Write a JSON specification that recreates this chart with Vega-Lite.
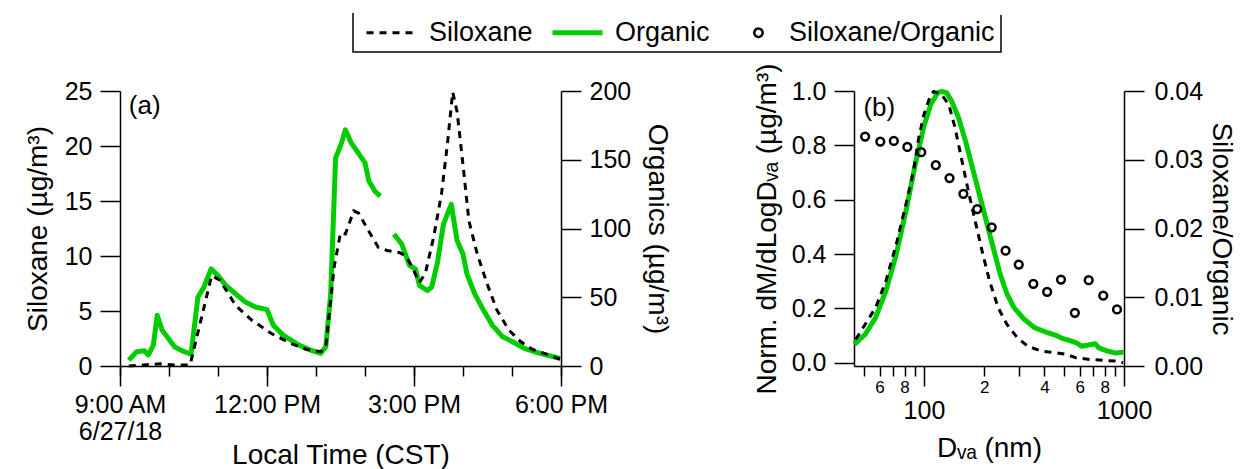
{
  "$schema": "https://vega.github.io/schema/vega-lite/v6.json",
  "background": "white",
  "padding": {"left": 24, "top": 12, "right": 0, "bottom": 0},
  "config": {
    "font": "Liberation Sans",
    "view": {"stroke": null},
    "axis": {
      "labelFont": "Liberation Sans", "titleFont": "Liberation Sans",
      "labelFontSize": 25, "titleFontSize": 28, "titleFontWeight": "normal",
      "labelColor": "black", "titleColor": "black",
      "domainColor": "black", "tickColor": "black",
      "domainWidth": 1.5, "tickWidth": 1.5, "grid": false
    },
    "legend": {
      "orient": "none", "legendX": 233, "legendY": -78,
      "direction": "horizontal", "strokeColor": "black", "strokeWidth": 1.5, "padding": 6,
      "labelFont": "Liberation Sans", "labelFontSize": 27, "labelColor": "black", "labelLimit": 0,
      "symbolSize": 2500, "columnPadding": 9, "labelOffset": 43
    }
  },
  "datasets": {
    "siloxaneTime": [
      {"hour": 9.18, "value": 0, "series": "Siloxane"},
      {"hour": 9.5, "value": 0.1, "series": "Siloxane"},
      {"hour": 9.82, "value": 0.2, "series": "Siloxane"},
      {"hour": 10.1, "value": 0.1, "series": "Siloxane"},
      {"hour": 10.43, "value": 0.1, "series": "Siloxane"},
      {"hour": 10.87, "value": 8.2, "series": "Siloxane"},
      {"hour": 11.04, "value": 7.8, "series": "Siloxane"},
      {"hour": 11.36, "value": 5.5, "series": "Siloxane"},
      {"hour": 11.68, "value": 4.2, "series": "Siloxane"},
      {"hour": 12.09, "value": 2.95, "series": "Siloxane"},
      {"hour": 12.49, "value": 2.05, "series": "Siloxane"},
      {"hour": 12.81, "value": 1.5, "series": "Siloxane"},
      {"hour": 13.1, "value": 1.3, "series": "Siloxane"},
      {"hour": 13.2, "value": 1.75, "series": "Siloxane"},
      {"hour": 13.37, "value": 9.0, "series": "Siloxane"},
      {"hour": 13.5, "value": 12.1, "series": "Siloxane"},
      {"hour": 13.6, "value": 12.0, "series": "Siloxane"},
      {"hour": 13.77, "value": 14.1, "series": "Siloxane"},
      {"hour": 13.87, "value": 13.9, "series": "Siloxane"},
      {"hour": 14.07, "value": 12.3, "series": "Siloxane"},
      {"hour": 14.27, "value": 10.8, "series": "Siloxane"},
      {"hour": 14.45, "value": 10.5, "series": "Siloxane"},
      {"hour": 14.71, "value": 10.3, "series": "Siloxane"},
      {"hour": 14.83, "value": 10.0, "series": "Siloxane"},
      {"hour": 14.95, "value": 9.1, "series": "Siloxane"},
      {"hour": 15.11, "value": 7.6, "series": "Siloxane"},
      {"hour": 15.23, "value": 8.4, "series": "Siloxane"},
      {"hour": 15.4, "value": 11.7, "series": "Siloxane"},
      {"hour": 15.56, "value": 15.6, "series": "Siloxane"},
      {"hour": 15.68, "value": 20.1, "series": "Siloxane"},
      {"hour": 15.79, "value": 24.9, "series": "Siloxane"},
      {"hour": 15.88, "value": 23.1, "series": "Siloxane"},
      {"hour": 16.0, "value": 18.3, "series": "Siloxane"},
      {"hour": 16.12, "value": 13.2, "series": "Siloxane"},
      {"hour": 16.29, "value": 10.2, "series": "Siloxane"},
      {"hour": 16.49, "value": 7.5, "series": "Siloxane"},
      {"hour": 16.69, "value": 5.1, "series": "Siloxane"},
      {"hour": 16.94, "value": 3.25, "series": "Siloxane"},
      {"hour": 17.18, "value": 2.2, "series": "Siloxane"},
      {"hour": 17.42, "value": 1.5, "series": "Siloxane"},
      {"hour": 17.75, "value": 1.0, "series": "Siloxane"},
      {"hour": 17.99, "value": 0.6, "series": "Siloxane"}
    ],
    "organicTime": [
      {"hour": 9.18, "value": 4.3, "segment": 1, "series": "Organic"},
      {"hour": 9.34, "value": 10.4, "segment": 1, "series": "Organic"},
      {"hour": 9.5, "value": 11.1, "segment": 1, "series": "Organic"},
      {"hour": 9.58, "value": 8, "segment": 1, "series": "Organic"},
      {"hour": 9.68, "value": 15.2, "segment": 1, "series": "Organic"},
      {"hour": 9.76, "value": 36.9, "segment": 1, "series": "Organic"},
      {"hour": 9.86, "value": 26, "segment": 1, "series": "Organic"},
      {"hour": 9.99, "value": 20, "segment": 1, "series": "Organic"},
      {"hour": 10.11, "value": 14, "segment": 1, "series": "Organic"},
      {"hour": 10.31, "value": 10.4, "segment": 1, "series": "Organic"},
      {"hour": 10.45, "value": 8.7, "segment": 1, "series": "Organic"},
      {"hour": 10.59, "value": 50, "segment": 1, "series": "Organic"},
      {"hour": 10.71, "value": 57.3, "segment": 1, "series": "Organic"},
      {"hour": 10.86, "value": 70.6, "segment": 1, "series": "Organic"},
      {"hour": 11.0, "value": 65.8, "segment": 1, "series": "Organic"},
      {"hour": 11.16, "value": 58.6, "segment": 1, "series": "Organic"},
      {"hour": 11.36, "value": 52.5, "segment": 1, "series": "Organic"},
      {"hour": 11.56, "value": 46.5, "segment": 1, "series": "Organic"},
      {"hour": 11.76, "value": 42.9, "segment": 1, "series": "Organic"},
      {"hour": 12.0, "value": 41, "segment": 1, "series": "Organic"},
      {"hour": 12.13, "value": 29.6, "segment": 1, "series": "Organic"},
      {"hour": 12.33, "value": 22.4, "segment": 1, "series": "Organic"},
      {"hour": 12.65, "value": 15.2, "segment": 1, "series": "Organic"},
      {"hour": 12.89, "value": 11.6, "segment": 1, "series": "Organic"},
      {"hour": 13.1, "value": 9.2, "segment": 1, "series": "Organic"},
      {"hour": 13.2, "value": 14, "segment": 1, "series": "Organic"},
      {"hour": 13.3, "value": 52.5, "segment": 1, "series": "Organic"},
      {"hour": 13.4, "value": 151.3, "segment": 1, "series": "Organic"},
      {"hour": 13.51, "value": 161, "segment": 1, "series": "Organic"},
      {"hour": 13.6, "value": 171.8, "segment": 1, "series": "Organic"},
      {"hour": 13.72, "value": 162.2, "segment": 1, "series": "Organic"},
      {"hour": 13.84, "value": 156.1, "segment": 1, "series": "Organic"},
      {"hour": 14.0, "value": 147.7, "segment": 1, "series": "Organic"},
      {"hour": 14.08, "value": 134.5, "segment": 1, "series": "Organic"},
      {"hour": 14.2, "value": 127.2, "segment": 1, "series": "Organic"},
      {"hour": 14.31, "value": 123.6, "segment": 1, "series": "Organic"},
      {"hour": 14.59, "value": 95.9, "segment": 2, "series": "Organic"},
      {"hour": 14.75, "value": 88.7, "segment": 2, "series": "Organic"},
      {"hour": 14.91, "value": 73, "segment": 2, "series": "Organic"},
      {"hour": 15.03, "value": 70.6, "segment": 2, "series": "Organic"},
      {"hour": 15.11, "value": 58.6, "segment": 2, "series": "Organic"},
      {"hour": 15.27, "value": 54.9, "segment": 2, "series": "Organic"},
      {"hour": 15.36, "value": 57.3, "segment": 2, "series": "Organic"},
      {"hour": 15.48, "value": 75.4, "segment": 2, "series": "Organic"},
      {"hour": 15.6, "value": 103, "segment": 2, "series": "Organic"},
      {"hour": 15.76, "value": 117.6, "segment": 2, "series": "Organic"},
      {"hour": 15.88, "value": 91.1, "segment": 2, "series": "Organic"},
      {"hour": 16.0, "value": 81.4, "segment": 2, "series": "Organic"},
      {"hour": 16.08, "value": 67, "segment": 2, "series": "Organic"},
      {"hour": 16.24, "value": 52.5, "segment": 2, "series": "Organic"},
      {"hour": 16.4, "value": 41.7, "segment": 2, "series": "Organic"},
      {"hour": 16.6, "value": 29.6, "segment": 2, "series": "Organic"},
      {"hour": 16.81, "value": 21.2, "segment": 2, "series": "Organic"},
      {"hour": 17.01, "value": 17.6, "segment": 2, "series": "Organic"},
      {"hour": 17.25, "value": 12.8, "segment": 2, "series": "Organic"},
      {"hour": 17.57, "value": 9.2, "segment": 2, "series": "Organic"},
      {"hour": 17.98, "value": 5.5, "segment": 2, "series": "Organic"}
    ],
    "siloxaneSize": [
      {"diameter": 45.6, "value": 0.086, "series": "Siloxane"},
      {"diameter": 50.8, "value": 0.141, "series": "Siloxane"},
      {"diameter": 57.3, "value": 0.2025, "series": "Siloxane"},
      {"diameter": 64.5, "value": 0.30, "series": "Siloxane"},
      {"diameter": 72.7, "value": 0.436, "series": "Siloxane"},
      {"diameter": 82.0, "value": 0.595, "series": "Siloxane"},
      {"diameter": 88.7, "value": 0.706, "series": "Siloxane"},
      {"diameter": 94.2, "value": 0.828, "series": "Siloxane"},
      {"diameter": 100, "value": 0.914, "series": "Siloxane"},
      {"diameter": 108.3, "value": 0.988, "series": "Siloxane"},
      {"diameter": 111.8, "value": 0.998, "series": "Siloxane"},
      {"diameter": 122, "value": 0.988, "series": "Siloxane"},
      {"diameter": 133, "value": 0.951, "series": "Siloxane"},
      {"diameter": 143, "value": 0.865, "series": "Siloxane"},
      {"diameter": 155, "value": 0.742, "series": "Siloxane"},
      {"diameter": 168, "value": 0.62, "series": "Siloxane"},
      {"diameter": 182, "value": 0.509, "series": "Siloxane"},
      {"diameter": 197, "value": 0.399, "series": "Siloxane"},
      {"diameter": 213, "value": 0.30, "series": "Siloxane"},
      {"diameter": 235, "value": 0.2025, "series": "Siloxane"},
      {"diameter": 260, "value": 0.141, "series": "Siloxane"},
      {"diameter": 293, "value": 0.092, "series": "Siloxane"},
      {"diameter": 330, "value": 0.061, "series": "Siloxane"},
      {"diameter": 387, "value": 0.043, "series": "Siloxane"},
      {"diameter": 454, "value": 0.037, "series": "Siloxane"},
      {"diameter": 512, "value": 0.031, "series": "Siloxane"},
      {"diameter": 577, "value": 0.018, "series": "Siloxane"},
      {"diameter": 676, "value": 0.012, "series": "Siloxane"},
      {"diameter": 793, "value": 0.0086, "series": "Siloxane"},
      {"diameter": 910, "value": 0.006, "series": "Siloxane"},
      {"diameter": 990, "value": 0.0, "series": "Siloxane"}
    ],
    "organicSize": [
      {"diameter": 44.9, "value": 0.0675, "series": "Organic"},
      {"diameter": 50.8, "value": 0.104, "series": "Organic"},
      {"diameter": 57.3, "value": 0.166, "series": "Organic"},
      {"diameter": 64.5, "value": 0.264, "series": "Organic"},
      {"diameter": 72.7, "value": 0.399, "series": "Organic"},
      {"diameter": 82.0, "value": 0.571, "series": "Organic"},
      {"diameter": 90.5, "value": 0.73, "series": "Organic"},
      {"diameter": 100, "value": 0.871, "series": "Organic"},
      {"diameter": 108.3, "value": 0.951, "series": "Organic"},
      {"diameter": 117.3, "value": 0.994, "series": "Organic"},
      {"diameter": 122, "value": 0.998, "series": "Organic"},
      {"diameter": 129.6, "value": 0.994, "series": "Organic"},
      {"diameter": 137.5, "value": 0.963, "series": "Organic"},
      {"diameter": 148.9, "value": 0.902, "series": "Organic"},
      {"diameter": 161.3, "value": 0.816, "series": "Organic"},
      {"diameter": 174.7, "value": 0.718, "series": "Organic"},
      {"diameter": 189.2, "value": 0.62, "series": "Organic"},
      {"diameter": 205, "value": 0.521, "series": "Organic"},
      {"diameter": 222, "value": 0.423, "series": "Organic"},
      {"diameter": 240.5, "value": 0.325, "series": "Organic"},
      {"diameter": 260.5, "value": 0.252, "series": "Organic"},
      {"diameter": 282, "value": 0.2025, "series": "Organic"},
      {"diameter": 317, "value": 0.16, "series": "Organic"},
      {"diameter": 357, "value": 0.129, "series": "Organic"},
      {"diameter": 403, "value": 0.114, "series": "Organic"},
      {"diameter": 454, "value": 0.102, "series": "Organic"},
      {"diameter": 492, "value": 0.0896, "series": "Organic"},
      {"diameter": 532, "value": 0.082, "series": "Organic"},
      {"diameter": 577, "value": 0.0736, "series": "Organic"},
      {"diameter": 613, "value": 0.061, "series": "Organic"},
      {"diameter": 664, "value": 0.065, "series": "Organic"},
      {"diameter": 718, "value": 0.07, "series": "Organic"},
      {"diameter": 748, "value": 0.055, "series": "Organic"},
      {"diameter": 826, "value": 0.043, "series": "Organic"},
      {"diameter": 911, "value": 0.0356, "series": "Organic"},
      {"diameter": 1000, "value": 0.039, "series": "Organic"}
    ],
    "ratioSize": [
      {"diameter": 50.8, "ratio": 0.03337, "series": "Siloxane/Organic"},
      {"diameter": 60.5, "ratio": 0.03265, "series": "Siloxane/Organic"},
      {"diameter": 70.7, "ratio": 0.03274, "series": "Siloxane/Organic"},
      {"diameter": 82.6, "ratio": 0.03187, "series": "Siloxane/Organic"},
      {"diameter": 96.9, "ratio": 0.0311, "series": "Siloxane/Organic"},
      {"diameter": 114.6, "ratio": 0.02921, "series": "Siloxane/Organic"},
      {"diameter": 134.2, "ratio": 0.02733, "series": "Siloxane/Organic"},
      {"diameter": 157.4, "ratio": 0.02505, "series": "Siloxane/Organic"},
      {"diameter": 184.6, "ratio": 0.02283, "series": "Siloxane/Organic"},
      {"diameter": 218.1, "ratio": 0.02017, "series": "Siloxane/Organic"},
      {"diameter": 255.9, "ratio": 0.01678, "series": "Siloxane/Organic"},
      {"diameter": 297.7, "ratio": 0.01475, "series": "Siloxane/Organic"},
      {"diameter": 352.2, "ratio": 0.01195, "series": "Siloxane/Organic"},
      {"diameter": 412.9, "ratio": 0.01079, "series": "Siloxane/Organic"},
      {"diameter": 484.3, "ratio": 0.01258, "series": "Siloxane/Organic"},
      {"diameter": 567.8, "ratio": 0.00774, "series": "Siloxane/Organic"},
      {"diameter": 666.1, "ratio": 0.01248, "series": "Siloxane/Organic"},
      {"diameter": 787.2, "ratio": 0.01025, "series": "Siloxane/Organic"},
      {"diameter": 922.6, "ratio": 0.00822, "series": "Siloxane/Organic"}
    ]
  },
  "spacing": 82,
  "hconcat": [
    {
      "width": 441,
      "height": 275,
      "layer": [
        {
          "data": {"name": "organicTime"},
          "mark": {"type": "line", "strokeWidth": 5, "strokeJoin": "round"},
          "encoding": {
            "x": {"field": "hour", "type": "quantitative",
              "scale": {"domain": [9, 18], "nice": false, "zero": false},
              "axis": {"orient": "bottom", "values": [9, 12, 15, 18], "tickSize": 20, "domain": false,
                "labelExpr": "datum.value == 9 ? ['9:00 AM', '6/27/18'] : datum.value == 12 ? '12:00 PM' : datum.value == 15 ? '3:00 PM' : '6:00 PM'",
                "labelPadding": 6, "labelLineHeight": 27, "labelFlush": false, "labelOverlap": false,
                "title": "Local Time (CST)", "titleY": 97, "titleBaseline": "alphabetic"}},
            "y": {"field": "value", "type": "quantitative",
              "scale": {"domain": [0, 200], "nice": false, "zero": false},
              "axis": {"orient": "right", "values": [0, 50, 100, 150, 200], "tickSize": 20, "labelPadding": 8,
                "title": "Organics (µg/m³)", "titlePadding": 12}},
            "detail": {"field": "segment", "type": "nominal"},
            "color": {"field": "series", "type": "nominal",
              "scale": {"domain": ["Siloxane", "Organic", "Siloxane/Organic"], "range": ["black", "#00cc00", "black"]},
              "legend": {"title": null, "symbolSize": 2500, "labelOffset": 43, "columnPadding": 9, "encode": {
                "legend": {"update": {"strokeDash": {"value": [0, 650, 3000, 0]}}},
                "symbols": {"update": {
                "shape": {"signal": "datum.value === 'Siloxane/Organic' ? 'M-1.4,0M7.2,0A1,1,0,1,1,5.2,0A1,1,0,1,1,7.2,0Z' : 'M-0.24,0H1.76'"},
                "size": {"signal": "datum.value === 'Siloxane/Organic' ? 70 : 2500"},
                "strokeDash": {"signal": "datum.value === 'Siloxane' ? [7, 6] : [1, 0]"},
                "strokeWidth": {"signal": "datum.value === 'Organic' ? 5 : (datum.value === 'Siloxane' ? 3 : 2.5)"},
                "fill": {"value": "transparent"}}}}}}
          }
        },
        {
          "layer": [
            {
              "data": {"name": "siloxaneTime"},
              "mark": {"type": "line", "strokeWidth": 3, "strokeDash": [7, 6]},
              "encoding": {
                "x": {"field": "hour", "type": "quantitative",
                  "scale": {"domain": [9, 18], "nice": false, "zero": false},
                  "axis": {"orient": "bottom", "values": [9, 10, 11, 12, 13, 14, 15, 16, 17, 18], "tickSize": 10, "labels": false, "title": null}},
                "y": {"field": "value", "type": "quantitative",
                  "scale": {"domain": [0, 25], "nice": false, "zero": false},
                  "axis": {"orient": "left", "values": [0, 5, 10, 15, 20, 25], "tickSize": 20, "labelPadding": 8,
                    "title": "Siloxane (µg/m³)", "titlePadding": 12}},
                "color": {"field": "series", "type": "nominal",
                  "scale": {"domain": ["Siloxane", "Organic", "Siloxane/Organic"], "range": ["black", "#00cc00", "black"]},
                  "legend": {"title": null, "symbolSize": 2500, "labelOffset": 43, "columnPadding": 9, "encode": {
                    "legend": {"update": {"strokeDash": {"value": [0, 650, 3000, 0]}}},
                    "symbols": {"update": {
                    "shape": {"signal": "datum.value === 'Siloxane/Organic' ? 'M-1.4,0M7.2,0A1,1,0,1,1,5.2,0A1,1,0,1,1,7.2,0Z' : 'M-0.24,0H1.76'"},
                    "size": {"signal": "datum.value === 'Siloxane/Organic' ? 70 : 2500"},
                    "strokeDash": {"signal": "datum.value === 'Siloxane' ? [7, 6] : [1, 0]"},
                    "strokeWidth": {"signal": "datum.value === 'Organic' ? 5 : (datum.value === 'Siloxane' ? 3 : 2.5)"},
                    "fill": {"value": "transparent"}}}}}}
              }
            },
            {
              "data": {"values": [{}]},
              "mark": {"type": "text", "text": "(a)", "align": "left", "baseline": "middle", "fontSize": 26, "font": "Liberation Sans", "color": "black"},
              "encoding": {
                "x": {"datum": 9.18, "type": "quantitative",
                  "scale": {"domain": [9, 18], "nice": false, "zero": false},
                  "axis": {"orient": "bottom", "values": [9, 10, 11, 12, 13, 14, 15, 16, 17, 18], "tickSize": 10, "labels": false, "title": null}},
                "y": {"datum": 23.6, "type": "quantitative",
                  "scale": {"domain": [0, 25], "nice": false, "zero": false},
                  "axis": {"orient": "left", "values": [0, 5, 10, 15, 20, 25], "tickSize": 20, "labelPadding": 8,
                    "title": "Siloxane (µg/m³)", "titlePadding": 12}}
              }
            }
          ]
        }
      ],
      "resolve": {"scale": {"y": "independent"}, "axis": {"x": "independent", "y": "independent"}}
    },
    {
      "width": 270,
      "height": 275,
      "layer": [
        {
          "layer": [
            {
              "data": {"name": "organicSize"},
              "mark": {"type": "line", "strokeWidth": 5, "strokeJoin": "round"},
              "encoding": {
                "x": {"field": "diameter", "type": "quantitative",
                  "scale": {"type": "log", "domain": [44.7, 1000], "nice": false},
                  "axis": {"orient": "bottom", "values": [50, 60, 70, 80, 90, 200, 300, 400, 500, 600, 700, 800, 900], "tickSize": 10,
                    "labelExpr": "indexof([60, 80, 200, 400, 600, 800], datum.value) >= 0 ? substring(toString(datum.value), 0, 1) : ''",
                    "labelFontSize": 17, "labelPadding": 3, "labelFlush": false, "labelOverlap": false, "title": null}},
                "y": {"field": "value", "type": "quantitative",
                  "scale": {"domain": [-0.012, 1.0], "nice": false, "zero": false},
                  "axis": {"orient": "left", "values": [0, 0.2, 0.4, 0.6, 0.8, 1.0], "format": ".1f", "tickSize": 20, "labelPadding": 8,
                    "title": "Norm. dM/dLogDᵥₐ (µg/m³)", "titlePadding": 10}},
                "color": {"field": "series", "type": "nominal",
                  "scale": {"domain": ["Siloxane", "Organic", "Siloxane/Organic"], "range": ["black", "#00cc00", "black"]},
                  "legend": {"title": null, "symbolSize": 2500, "labelOffset": 43, "columnPadding": 9, "encode": {
                    "legend": {"update": {"strokeDash": {"value": [0, 650, 3000, 0]}}},
                    "symbols": {"update": {
                    "shape": {"signal": "datum.value === 'Siloxane/Organic' ? 'M-1.4,0M7.2,0A1,1,0,1,1,5.2,0A1,1,0,1,1,7.2,0Z' : 'M-0.24,0H1.76'"},
                    "size": {"signal": "datum.value === 'Siloxane/Organic' ? 70 : 2500"},
                    "strokeDash": {"signal": "datum.value === 'Siloxane' ? [7, 6] : [1, 0]"},
                    "strokeWidth": {"signal": "datum.value === 'Organic' ? 5 : (datum.value === 'Siloxane' ? 3 : 2.5)"},
                    "fill": {"value": "transparent"}}}}}}
              }
            },
            {
              "data": {"name": "siloxaneSize"},
              "mark": {"type": "line", "strokeWidth": 3, "strokeDash": [7, 6]},
              "encoding": {
                "x": {"field": "diameter", "type": "quantitative",
                  "scale": {"type": "log", "domain": [44.7, 1000], "nice": false},
                  "axis": {"orient": "bottom", "values": [50, 60, 70, 80, 90, 200, 300, 400, 500, 600, 700, 800, 900], "tickSize": 10,
                    "labelExpr": "indexof([60, 80, 200, 400, 600, 800], datum.value) >= 0 ? substring(toString(datum.value), 0, 1) : ''",
                    "labelFontSize": 17, "labelPadding": 3, "labelFlush": false, "labelOverlap": false, "title": null}},
                "y": {"field": "value", "type": "quantitative",
                  "scale": {"domain": [-0.012, 1.0], "nice": false, "zero": false},
                  "axis": {"orient": "left", "values": [0, 0.2, 0.4, 0.6, 0.8, 1.0], "format": ".1f", "tickSize": 20, "labelPadding": 8,
                    "title": "Norm. dM/dLogDᵥₐ (µg/m³)", "titlePadding": 10}},
                "color": {"field": "series", "type": "nominal",
                  "scale": {"domain": ["Siloxane", "Organic", "Siloxane/Organic"], "range": ["black", "#00cc00", "black"]},
                  "legend": {"title": null, "symbolSize": 2500, "labelOffset": 43, "columnPadding": 9, "encode": {
                    "legend": {"update": {"strokeDash": {"value": [0, 650, 3000, 0]}}},
                    "symbols": {"update": {
                    "shape": {"signal": "datum.value === 'Siloxane/Organic' ? 'M-1.4,0M7.2,0A1,1,0,1,1,5.2,0A1,1,0,1,1,7.2,0Z' : 'M-0.24,0H1.76'"},
                    "size": {"signal": "datum.value === 'Siloxane/Organic' ? 70 : 2500"},
                    "strokeDash": {"signal": "datum.value === 'Siloxane' ? [7, 6] : [1, 0]"},
                    "strokeWidth": {"signal": "datum.value === 'Organic' ? 5 : (datum.value === 'Siloxane' ? 3 : 2.5)"},
                    "fill": {"value": "transparent"}}}}}}
              }
            },
            {
              "data": {"values": [{}]},
              "mark": {"type": "text", "text": "(b)", "align": "left", "baseline": "middle", "fontSize": 26, "font": "Liberation Sans", "color": "black"},
              "encoding": {
                "x": {"datum": 49.8, "type": "quantitative",
                  "scale": {"type": "log", "domain": [44.7, 1000], "nice": false},
                  "axis": {"orient": "bottom", "values": [50, 60, 70, 80, 90, 200, 300, 400, 500, 600, 700, 800, 900], "tickSize": 10,
                    "labelExpr": "indexof([60, 80, 200, 400, 600, 800], datum.value) >= 0 ? substring(toString(datum.value), 0, 1) : ''",
                    "labelFontSize": 17, "labelPadding": 3, "labelFlush": false, "labelOverlap": false, "title": null}},
                "y": {"datum": 0.939, "type": "quantitative",
                  "scale": {"domain": [-0.012, 1.0], "nice": false, "zero": false},
                  "axis": {"orient": "left", "values": [0, 0.2, 0.4, 0.6, 0.8, 1.0], "format": ".1f", "tickSize": 20, "labelPadding": 8,
                    "title": "Norm. dM/dLogDᵥₐ (µg/m³)", "titlePadding": 10}}
              }
            }
          ]
        },
        {
          "data": {"name": "ratioSize"},
          "mark": {"type": "point", "filled": false, "strokeWidth": 2.5, "size": 60, "opacity": 1},
          "encoding": {
            "x": {"field": "diameter", "type": "quantitative",
              "scale": {"type": "log", "domain": [44.7, 1000], "nice": false},
              "axis": {"orient": "bottom", "values": [100, 1000], "tickSize": 20, "domain": false, "format": "d",
                "labelPadding": 12, "labelFlush": false, "labelOverlap": false,
                "title": "Dᵥₐ (nm)", "titleY": 90, "titleBaseline": "alphabetic"}},
            "y": {"field": "ratio", "type": "quantitative",
              "scale": {"domain": [0, 0.04], "nice": false, "zero": false},
              "axis": {"orient": "right", "values": [0, 0.01, 0.02, 0.03, 0.04], "format": ".2f", "tickSize": 20, "labelPadding": 10,
                "title": "Siloxane/Organic", "titlePadding": 4}},
            "color": {"field": "series", "type": "nominal",
              "scale": {"domain": ["Siloxane", "Organic", "Siloxane/Organic"], "range": ["black", "#00cc00", "black"]},
              "legend": {"title": null, "symbolSize": 2500, "labelOffset": 43, "columnPadding": 9, "encode": {
                "legend": {"update": {"strokeDash": {"value": [0, 650, 3000, 0]}}},
                "symbols": {"update": {
                "shape": {"signal": "datum.value === 'Siloxane/Organic' ? 'M-1.4,0M7.2,0A1,1,0,1,1,5.2,0A1,1,0,1,1,7.2,0Z' : 'M-0.24,0H1.76'"},
                "size": {"signal": "datum.value === 'Siloxane/Organic' ? 70 : 2500"},
                "strokeDash": {"signal": "datum.value === 'Siloxane' ? [7, 6] : [1, 0]"},
                "strokeWidth": {"signal": "datum.value === 'Organic' ? 5 : (datum.value === 'Siloxane' ? 3 : 2.5)"},
                "fill": {"value": "transparent"}}}}}}
          }
        }
      ],
      "resolve": {"scale": {"y": "independent"}, "axis": {"x": "independent", "y": "independent"}}
    }
  ]
}
